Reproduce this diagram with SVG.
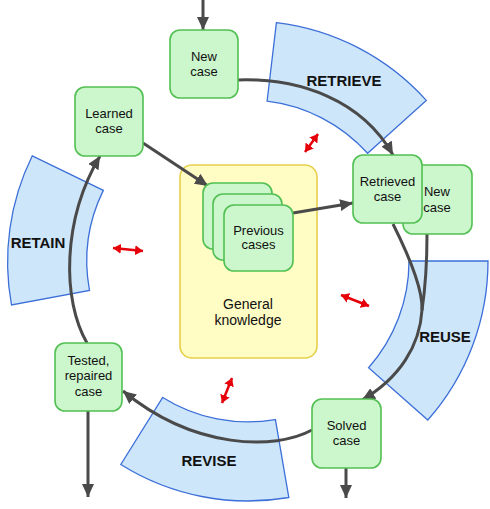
<svg xmlns="http://www.w3.org/2000/svg" width="490" height="509" viewBox="0 0 490 509">
<defs>
<style>
.band{fill:#cde6fa;stroke:#3c6fd8;stroke-width:1.3}
.blabel{font-family:"Liberation Sans",Arial,sans-serif;font-size:15px;font-weight:bold;fill:#111;text-anchor:middle}
.node rect{fill:#ccf6cc;stroke:#52c052;stroke-width:1.6}
.ntext{font-family:"Liberation Sans",Arial,sans-serif;font-size:13px;fill:#111;text-anchor:middle}
.gk{fill:#fffcc4;stroke:#e6cf4a;stroke-width:1.6}
.conn{fill:none;stroke:#4a4a4a;stroke-width:3}
.red{fill:none;stroke:#e6000a;stroke-width:2.5}
</style>
<marker id="ah" markerUnits="userSpaceOnUse" markerWidth="14" markerHeight="12" refX="13" refY="6" orient="auto">
<path d="M0,0 L13,6 L0,12 Z" fill="#4a4a4a"/>
</marker>
<marker id="rh" markerUnits="userSpaceOnUse" markerWidth="9" markerHeight="10" refX="8" refY="5" orient="auto-start-reverse">
<path d="M0,0 L8,5 L0,10 Z" fill="#e6000a"/>
</marker>
</defs>

<g id="bands">
<path class="band" d="M276.4,22.7 A240,240 0 0 1 426.3,100.4 L367.6,153.3 A161,161 0 0 0 267.1,101.1 Z"/>
<path class="band" d="M488,261 A240,240 0 0 1 427.8,420 L368.6,367.7 A161,161 0 0 0 409,261 Z"/>
<path class="band" d="M288.8,497.5 A240,240 0 0 1 120.8,464.5 L162.7,397.5 A161,161 0 0 0 275.4,419.6 Z"/>
<path class="band" d="M11.5,305 A240,240 0 0 1 32.3,155.8 L103.3,190.4 A161,161 0 0 0 89.5,290.5 Z"/>
<text class="blabel" x="344" y="86">RETRIEVE</text>
<text class="blabel" x="445" y="342">REUSE</text>
<text class="blabel" x="38" y="248">RETAIN</text>
<text class="blabel" x="209" y="466">REVISE</text>
</g>

<g id="gk">
<rect class="gk" x="180" y="165" width="137" height="193" rx="12"/>
<text class="ntext" style="font-size:14px" x="248" y="309">General</text>
<text class="ntext" style="font-size:14px" x="248" y="325">knowledge</text>
</g>

<g id="connectors">
<path class="conn" d="M203,0 L203,30" marker-end="url(#ah)"/>
<path class="conn" d="M238,80 C300,78 362,100 393,155" marker-end="url(#ah)"/>
<path class="conn" d="M143,143 L208,186" marker-end="url(#ah)"/>
<path class="conn" d="M293,213 L353,203" marker-end="url(#ah)"/>
<path class="conn" d="M427,234 C427,265 425,290 422,310"/>
<path class="conn" d="M393,224 C410,258 423,290 422,310 C420,345 400,378 362,400" marker-end="url(#ah)"/>
<path class="conn" d="M312,430 C275,450 195,450 123,391" marker-end="url(#ah)"/>
<path class="conn" d="M87,343 C62,300 62,220 100,156" marker-end="url(#ah)"/>
<path class="conn" d="M88,411 L88,497" marker-end="url(#ah)"/>
<path class="conn" d="M346,468 L346,498" marker-end="url(#ah)"/>
<path class="red" d="M305,152 L318,134" marker-start="url(#rh)" marker-end="url(#rh)"/>
<path class="red" d="M113,248 L143,251" marker-start="url(#rh)" marker-end="url(#rh)"/>
<path class="red" d="M341,295 L369,306" marker-start="url(#rh)" marker-end="url(#rh)"/>
<path class="red" d="M232,378 L222,403" marker-start="url(#rh)" marker-end="url(#rh)"/>
</g>

<g id="new-case" class="node">
<rect x="170" y="30" width="68" height="68" rx="10"/>
<text class="ntext" x="204" y="61">New</text>
<text class="ntext" x="204" y="76">case</text>
</g>
<g id="learned-case" class="node">
<rect x="75" y="87" width="68" height="69" rx="10"/>
<text class="ntext" x="109" y="118">Learned</text>
<text class="ntext" x="109" y="133">case</text>
</g>
<g id="new-case-2" class="node">
<rect x="403" y="165" width="69" height="69" rx="10"/>
<text class="ntext" x="437" y="196">New</text>
<text class="ntext" x="437" y="211.5">case</text>
</g>
<g id="retrieved-case" class="node">
<rect x="353" y="155" width="69" height="68" rx="10"/>
<text class="ntext" x="387.5" y="186">Retrieved</text>
<text class="ntext" x="387.5" y="201">case</text>
</g>
<g id="previous-cases" class="node">
<rect x="203" y="183" width="69" height="66" rx="10"/>
<rect x="213" y="194" width="69" height="66" rx="10"/>
<rect x="224" y="205" width="69" height="66" rx="10"/>
<text class="ntext" x="258.5" y="235">Previous</text>
<text class="ntext" x="258.5" y="249">cases</text>
</g>
<g id="tested-case" class="node">
<rect x="55" y="343" width="67" height="68" rx="10"/>
<text class="ntext" x="88.5" y="365">Tested,</text>
<text class="ntext" x="88.5" y="380">repaired</text>
<text class="ntext" x="88.5" y="395.5">case</text>
</g>
<g id="solved-case" class="node">
<rect x="312" y="399" width="69" height="69" rx="10"/>
<text class="ntext" x="346.5" y="430">Solved</text>
<text class="ntext" x="346.5" y="445">case</text>
</g>
</svg>
